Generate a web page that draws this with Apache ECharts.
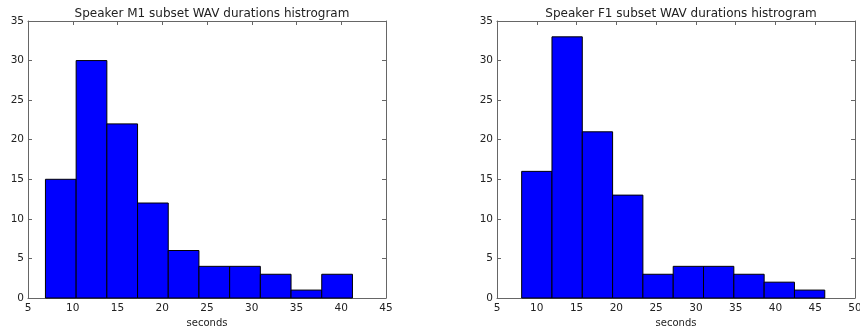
<!DOCTYPE html>
<html>
<head>
<meta charset="utf-8">
<script src="https://cdn.jsdelivr.net/npm/echarts@6/dist/echarts.min.js"></script>
<style>
  html, body { margin: 0; padding: 0; background: #fff; }
  #chart { width: 860px; height: 329px; }
</style>
</head>
<body>
<div id="chart"></div>
<script>
// Speaker M1: histogram bin edges (seconds) and counts
const m1Edges = [6.95, 10.38, 13.81, 17.24, 20.67, 24.10, 27.53, 30.96, 34.39, 37.82, 41.25];
const m1Counts = [15, 30, 22, 12, 6, 4, 4, 3, 1, 3];

// Speaker F1: histogram bin edges (seconds) and counts
const f1Edges = [8.10, 11.91, 15.72, 19.53, 23.34, 27.15, 30.96, 34.77, 38.58, 42.39, 46.20];
const f1Counts = [16, 33, 21, 13, 3, 4, 4, 3, 2, 1];

const titles = ['Speaker M1 subset WAV durations histrogram', 'Speaker F1 subset WAV durations histrogram'];
const xLabel = 'seconds';

const FONT = '"DejaVu Sans", sans-serif';
const TEXT = '#222';
const FRAME = '#666';

function binData(edges, counts) {
  return counts.map((c, i) => [edges[i], edges[i + 1], c]);
}

function renderBin(params, api) {
  const p0 = api.coord([api.value(0), 0]);
  const p1 = api.coord([api.value(1), api.value(2)]);
  return {
    type: 'rect',
    shape: { x: p0[0], y: p1[1], width: p1[0] - p0[0], height: p0[1] - p1[1] },
    style: { fill: '#0000ff', stroke: '#000', lineWidth: 1 }
  };
}

const grids = [
  { left: 28, top: 21, width: 358, height: 277, outerBoundsMode: 'none', containLabel: false },
  { left: 497, top: 21, width: 358, height: 277, outerBoundsMode: 'none', containLabel: false }
];
const xRanges = [[5, 45], [5, 50]];

const xAxes = [], yAxes = [];
grids.forEach((g, i) => {
  // bottom axis with labels
  xAxes.push({
    type: 'value', gridIndex: i, min: xRanges[i][0], max: xRanges[i][1], interval: 5,
    position: 'bottom',
    name: xLabel, nameLocation: 'middle', nameGap: 20,
    nameTextStyle: { fontFamily: FONT, fontSize: 10, color: TEXT },
    axisLine: { show: true, onZero: false, lineStyle: { color: FRAME, width: 1 } },
    axisTick: { show: true, inside: true, length: 4, lineStyle: { color: FRAME } },
    axisLabel: { fontFamily: FONT, fontSize: 10.5, color: TEXT, margin: 5, showMinLabel: true, showMaxLabel: true },
    splitLine: { show: false }
  });
  // top frame with ticks
  xAxes.push({
    type: 'value', gridIndex: i, min: xRanges[i][0], max: xRanges[i][1], interval: 5,
    position: 'top',
    axisLine: { show: true, onZero: false, lineStyle: { color: FRAME, width: 1 } },
    axisTick: { show: true, inside: true, length: 4, lineStyle: { color: FRAME } },
    axisLabel: { show: false },
    splitLine: { show: false }
  });
  yAxes.push({
    type: 'value', gridIndex: i, min: 0, max: 35, interval: 5,
    position: 'left',
    axisLine: { show: true, onZero: false, lineStyle: { color: FRAME, width: 1 } },
    axisTick: { show: true, inside: true, length: 4, lineStyle: { color: FRAME } },
    axisLabel: { fontFamily: FONT, fontSize: 10.5, color: TEXT, margin: 4, showMinLabel: true, showMaxLabel: true },
    splitLine: { show: false }
  });
  yAxes.push({
    type: 'value', gridIndex: i, min: 0, max: 35, interval: 5,
    position: 'right',
    axisLine: { show: true, onZero: false, lineStyle: { color: FRAME, width: 1 } },
    axisTick: { show: true, inside: true, length: 4, lineStyle: { color: FRAME } },
    axisLabel: { show: false },
    splitLine: { show: false }
  });
});

const chart = echarts.init(document.getElementById('chart'), null, { renderer: 'canvas' });
chart.setOption({
  animation: false,
  backgroundColor: '#fff',
  title: titles.map((t, i) => ({
    text: t,
    left: grids[i].left + grids[i].width / 2,
    textAlign: 'center',
    top: 3,
    textStyle: { fontFamily: FONT, fontSize: 12, fontWeight: 'normal', color: TEXT }
  })),
  grid: grids,
  xAxis: xAxes,
  yAxis: yAxes,
  series: [
    { type: 'custom', xAxisIndex: 0, yAxisIndex: 0, renderItem: renderBin, data: binData(m1Edges, m1Counts), encode: { x: [0, 1], y: 2 } },
    { type: 'custom', xAxisIndex: 2, yAxisIndex: 2, renderItem: renderBin, data: binData(f1Edges, f1Counts), encode: { x: [0, 1], y: 2 } }
  ]
});
</script>
</body>
</html>
